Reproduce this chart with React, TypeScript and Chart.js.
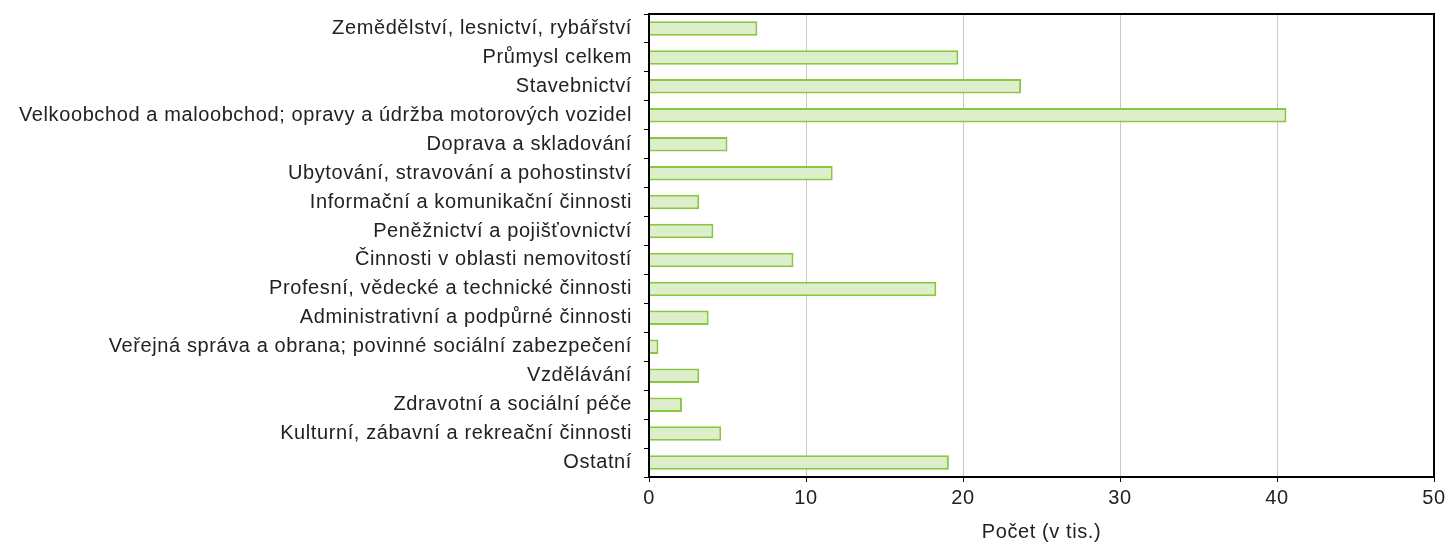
import React, { useEffect, useRef } from "react";
import { Chart, registerables } from "chart.js";

Chart.register(...registerables);

const categories = [
  "Zemědělství, lesnictví, rybářství",
  "Průmysl celkem",
  "Stavebnictví",
  "Velkoobchod a maloobchod; opravy a údržba motorových vozidel",
  "Doprava a skladování",
  "Ubytování, stravování a pohostinství",
  "Informační a komunikační činnosti",
  "Peněžnictví a pojišťovnictví",
  "Činnosti v oblasti nemovitostí",
  "Profesní, vědecké a technické činnosti",
  "Administrativní a podpůrné činnosti",
  "Veřejná správa a obrana; povinné sociální zabezpečení",
  "Vzdělávání",
  "Zdravotní a sociální péče",
  "Kulturní, zábavní a rekreační činnosti",
  "Ostatní",
];

const values = [6.9, 19.7, 23.7, 40.6, 5.0, 11.7, 3.2, 4.1, 9.2, 18.3, 3.8, 0.6, 3.2, 2.1, 4.6, 19.1];

const xTitle = "Počet (v tis.)";

const framePlugin = {
  id: "frame",
  beforeDraw(chart: any) {
    chart.ctx.letterSpacing = "0.6px";
  },
  afterDraw(chart: any) {
    const { ctx, chartArea } = chart;
    ctx.save();
    ctx.strokeStyle = "#000";
    ctx.lineWidth = 2;
    ctx.strokeRect(chartArea.left, chartArea.top, chartArea.right - chartArea.left, chartArea.bottom - chartArea.top);
    ctx.restore();
  },
};

export default function App() {
  const ref = useRef<HTMLCanvasElement>(null);
  useEffect(() => {
    if (!ref.current) return;
    const font = { family: "'Liberation Sans', Arial, sans-serif", size: 20 };
    const chart = new Chart(ref.current, {
      type: "bar",
      data: {
        labels: categories,
        datasets: [
          {
            data: values,
            backgroundColor: "#dcefca",
            borderColor: "#8cc63f",
            borderWidth: 2,
            categoryPercentage: 1,
            barPercentage: 0.5,
          },
        ],
      },
      options: {
        indexAxis: "y",
        animation: false,
        responsive: false,
        maintainAspectRatio: false,
        layout: { padding: { top: 14, right: 14, left: 0, bottom: 0 } },
        plugins: { legend: { display: false }, tooltip: { enabled: false } },
        scales: {
          x: {
            min: 0,
            max: 50,
            ticks: { stepSize: 10, color: "#222", font, padding: 4 },
            grid: { color: "#c8c8c8", tickColor: "#000", tickLength: 5, lineWidth: 1 },
            border: { display: false },
            title: { display: true, text: xTitle, color: "#222", font, padding: { top: 0, bottom: 0 } },
            afterFit: (s: any) => {
              s.height = 67;
              s.paddingLeft = 0;
              s.paddingRight = 0;
            },
          },
          y: {
            ticks: { color: "#222", font, padding: 12, autoSkip: false },
            grid: { drawOnChartArea: false, tickColor: "#000", tickLength: 5, offset: true },
            border: { display: false },
            afterFit: (s: any) => {
              s.width = 649;
              s.paddingTop = 0;
              s.paddingBottom = 0;
            },
          },
        },
      },
      plugins: [framePlugin],
    });
    return () => chart.destroy();
  }, []);
  return (
    <div style={{ position: "fixed", left: 0, top: 0, width: 1448, height: 544, background: "#fff" }}>
      <canvas ref={ref} width={1448} height={544} />
    </div>
  );
}
